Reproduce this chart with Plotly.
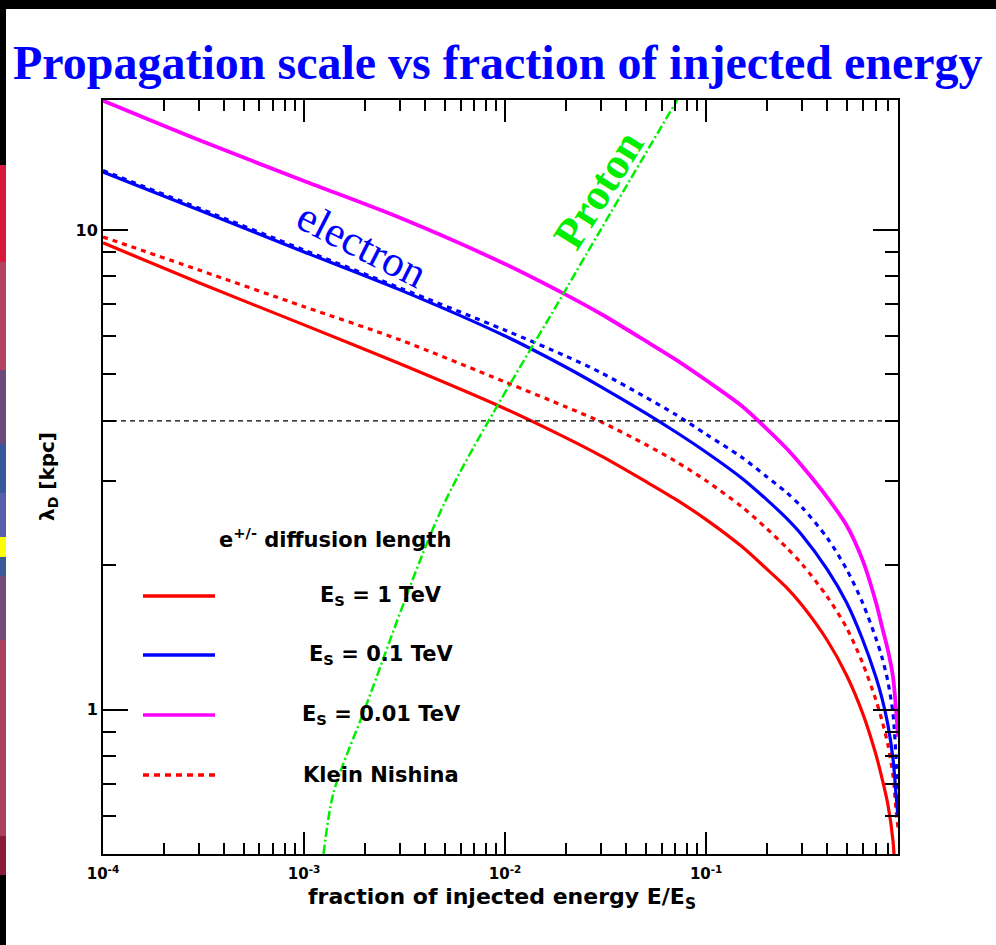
import math
import plotly.graph_objects as go

# Fraction of injected energy E/E_S
x_frac = [1e-4, 3e-4, 1e-3, 3e-3, 0.01, 0.02, 0.03, 0.05, 0.07, 0.1, 0.15,
          0.2, 0.25, 0.3, 0.4, 0.5, 0.6, 0.7, 0.75, 0.8, 0.85, 0.88, 0.9]

# Diffusion length lambda_D [kpc] for each source energy
lam_1tev = [9.40, 7.76, 6.34, 5.26, 4.24, 3.69, 3.38, 2.99, 2.75, 2.49, 2.19,
            1.965, 1.80, 1.65, 1.395, 1.178, 0.983, 0.804, 0.718, 0.637, 0.532,
            0.423, 0.38]
lam_01tev = [13.2, 11.0, 9.0, 7.50, 6.01, 5.18, 4.71, 4.15, 3.80, 3.44, 3.04,
             2.74, 2.51, 2.31, 1.96, 1.67, 1.40, 1.166, 1.054, 0.934, 0.79,
             0.665, 0.598]
lam_001tev = [18.6, 15.4, 12.65, 10.6, 8.49, 7.33, 6.68, 5.87, 5.38, 4.86, 4.30,
              3.85, 3.51, 3.22, 2.77, 2.42, 2.05, 1.67, 1.487, 1.335, 1.17,
              1.0, 0.877]
# Klein-Nishina corrected lengths
lam_kn_1tev = [9.67, 8.25, 6.92, 5.90, 4.82, 4.28, 3.98, 3.57, 3.30, 3.00, 2.65,
               2.385, 2.18, 2.01, 1.72, 1.48, 1.25, 1.045, 0.947, 0.848, 0.728,
               0.618, 0.567]
lam_kn_01tev = [13.3, 11.1, 9.08, 7.57, 6.18, 5.46, 5.04, 4.48, 4.13, 3.75, 3.36,
                3.06, 2.84, 2.64, 2.28, 1.96, 1.67, 1.405, 1.283, 1.149, 0.98,
                0.794, 0.653]

# Proton propagation scale
proton_x = [1.25e-3, 1.4e-3, 2e-3, 5e-3, 0.02, 0.072]
proton_y = [0.5, 0.67, 1.0, 2.7, 7.5, 18.7]

# Reference distance
ref_length = 4.0

x_ticks = [1e-4, 1e-3, 1e-2, 1e-1]
x_ticktext = ["<b>10<sup>-4</sup></b>", "<b>10<sup>-3</sup></b>",
              "<b>10<sup>-2</sup></b>", "<b>10<sup>-1</sup></b>"]
y_ticks = [1, 10]
y_ticktext = ["<b>1</b>", "<b>10</b>"]

x_min, x_max = 1e-4, 0.9
y_min, y_max = 0.5, 18.66

legend_labels = ["E<sub>S</sub> = 1 TeV", "E<sub>S</sub> = 0.1 TeV",
                 "E<sub>S</sub> = 0.01 TeV", "Klein Nishina"]

RED, BLUE, MAG, GREEN = "#ff0000", "#0000ff", "#ff00ff", "#00ee00"
SANS = "DejaVu Sans"
SERIF = "Liberation Serif"

fig = go.Figure()


def curve(y, color, width, dash="solid"):
    return go.Scatter(x=x_frac, y=y, mode="lines",
                      line=dict(color=color, width=width, dash=dash,
                                shape="spline", smoothing=0.8))


fig.add_trace(curve(lam_kn_1tev, RED, 3.2, "5px,5px"))
fig.add_trace(curve(lam_kn_01tev, BLUE, 3.2, "5px,5px"))
fig.add_trace(curve(lam_1tev, RED, 3.2))
fig.add_trace(curve(lam_01tev, BLUE, 3.2))
fig.add_trace(curve(lam_001tev, MAG, 3.8))
fig.add_trace(go.Scatter(x=proton_x, y=proton_y, mode="lines",
                         line=dict(color=GREEN, width=2.5, dash="9px,3px,2px,3px",
                                   shape="spline", smoothing=0.8)))
fig.add_trace(go.Scatter(x=[x_min, x_max], y=[ref_length, ref_length], mode="lines",
                         line=dict(color="black", width=1.3, dash="5px,4px")))


def minor_vals(lo, hi):
    vals = []
    for e in range(-5, 3):
        for k in range(2, 10):
            v = k * 10 ** e
            if lo <= v <= hi:
                vals.append(v)
    return vals


axis_common = dict(type="log", showgrid=False, zeroline=False, showline=True,
                   linecolor="black", linewidth=2, mirror="allticks",
                   ticks="inside", tickcolor="black", tickwidth=1.5,
                   tickmode="array")

fig.update_xaxes(**axis_common,
                 range=[math.log10(x_min), math.log10(x_max)],
                 tickvals=x_ticks, ticktext=x_ticktext, ticklen=22,
                 ticklabelstandoff=5,
                 tickfont=dict(family=SANS, size=15, color="black"),
                 minor=dict(tickmode="array", tickvals=minor_vals(x_min, x_max),
                            ticks="inside", ticklen=11, tickwidth=1.5,
                            tickcolor="black", showgrid=False))
fig.update_yaxes(**axis_common,
                 range=[math.log10(y_min), math.log10(y_max)],
                 tickvals=y_ticks, ticktext=y_ticktext, ticklen=25,
                 tickfont=dict(family=SANS, size=16, color="black"),
                 minor=dict(tickmode="array", tickvals=minor_vals(y_min, y_max),
                            ticks="inside", ticklen=13, tickwidth=1.5,
                            tickcolor="black", showgrid=False))

# pixel helpers for the 996 x 945 canvas
L, R, T, B = 103, 898, 100, 854


def px(xp):
    return (xp - L) / (R - L)


def py(yp):
    return (B - yp) / (B - T)


annotations = [
    dict(text="<b>Propagation scale vs fraction of injected energy</b>",
         x=px(498), y=py(62), font=dict(family=SERIF, size=48, color=BLUE)),
    dict(text="<b>fraction of injected energy E/E<sub>S</sub></b>",
         x=px(502), y=py(898), font=dict(family=SANS, size=22, color="black")),
    dict(text="<b>λ<sub>D</sub> [kpc]</b>", textangle=-90,
         x=px(48), y=py(477), font=dict(family=SANS, size=20, color="black")),
    dict(text="<b>e<sup>+/-</sup> diffusion length</b>",
         x=px(335), y=py(538), font=dict(family=SANS, size=21, color="black")),
    dict(text="electron", textangle=27,
         x=px(362), y=py(244), font=dict(family=SERIF, size=43, color=BLUE)),
    dict(text="<b>Proton</b>", textangle=-58,
         x=px(598), y=py(190), font=dict(family=SERIF, size=44, color=GREEN)),
]
legend_y = [596, 655, 715, 775]
legend_style = [(RED, None), (BLUE, None), (MAG, None), (RED, "6px,5px")]
shapes = []
for label, ly, (col, dash) in zip(legend_labels, legend_y, legend_style):
    annotations.append(dict(text="<b>" + label + "</b>", x=px(381), y=py(ly),
                            font=dict(family=SANS, size=21, color="black")))
    shapes.append(dict(type="line", xref="paper", yref="paper",
                       x0=px(143), x1=px(215), y0=py(ly), y1=py(ly),
                       line=dict(color=col, width=3.5, dash=dash or "solid")))

for a in annotations:
    a.update(xref="paper", yref="paper", showarrow=False,
             xanchor="center", yanchor="middle")

# dark frame strip along the top and the slide edge on the left
strip = [(0, 165, "#000000"), (165, 262, "#d8183a"), (262, 370, "#b44262"),
         (370, 444, "#6c4a7c"), (444, 493, "#38589a"), (493, 537, "#5a5cac"),
         (537, 557, "#ffff00"), (557, 576, "#3c5a98"), (576, 640, "#744a7a"),
         (640, 836, "#a8405e"), (836, 875, "#8c1a3a"), (875, 945, "#000000")]
for y0, y1, col in strip:
    shapes.append(dict(type="rect", xref="paper", yref="paper",
                       x0=px(0), x1=px(6), y0=py(y1), y1=py(y0),
                       fillcolor=col, line=dict(width=0)))
shapes.append(dict(type="rect", xref="paper", yref="paper",
                   x0=px(0), x1=px(996), y0=py(9), y1=py(0),
                   fillcolor="#000000", line=dict(width=0)))

fig.update_layout(width=996, height=945, autosize=False,
                  margin=dict(l=L, r=996 - R, t=T, b=945 - B),
                  paper_bgcolor="white", plot_bgcolor="white",
                  showlegend=False, annotations=annotations, shapes=shapes)

fig.write_html("out.html")
